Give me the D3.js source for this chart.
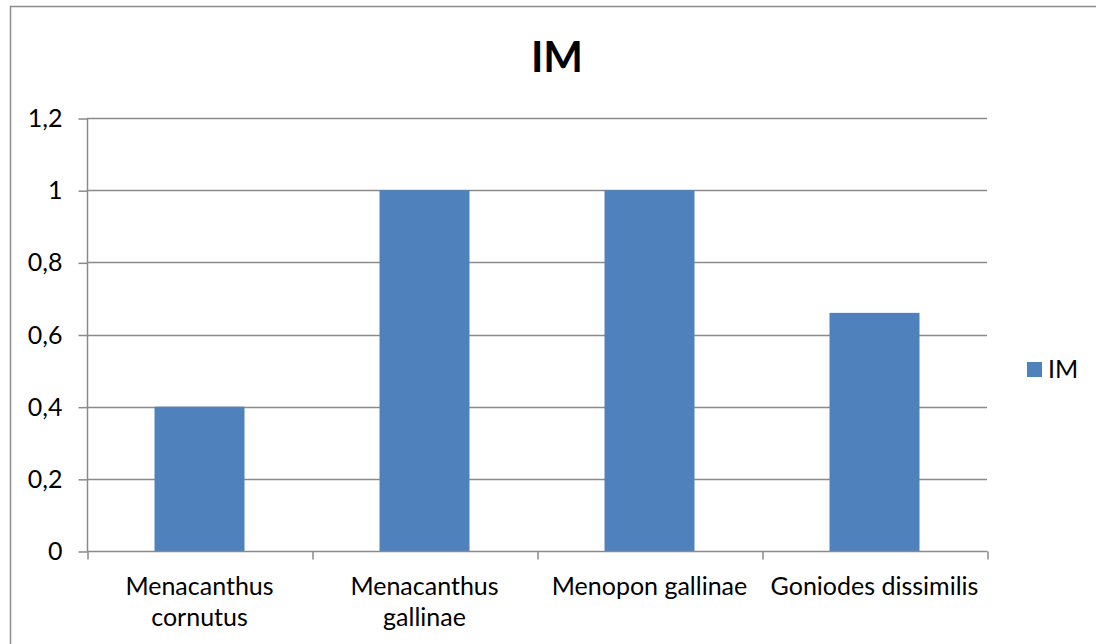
<!DOCTYPE html>
<html><head><meta charset="utf-8">
<script src="https://cdn.jsdelivr.net/npm/d3@7"></script>
<style>body{margin:0;background:#fff;overflow:hidden}svg{display:block}</style>
</head><body>
<svg id="c" width="1096" height="644"></svg>
<script>
const categories = [["Menacanthus","cornutus"],["Menacanthus","gallinae"],["Menopon gallinae"],["Goniodes dissimilis"]];
const values = [0.4, 1, 1, 0.66];
const yTicks = [0, 0.2, 0.4, 0.6, 0.8, 1, 1.2];
const yTickLabels = ["0","0,2","0,4","0,6","0,8","1","1,2"];
const seriesName = "IM";
const chartTitle = "IM";

const svg = d3.select("#c");
const font = "Lato, 'Open Sans', sans-serif";
const grid = "#8a8a8a";
const barColor = "#4f81bd";
const L = 87, R = 987, T = 118, B = 551;

svg.append("rect").attr("x",10.5).attr("y",6.5).attr("width",1200).attr("height",800)
  .attr("fill","#fff").attr("stroke","#8c8c8c").attr("stroke-width",1.5);

const x = d3.scaleBand().domain(d3.range(categories.length)).range([L,R]).padding(0);
const y = d3.scaleLinear().domain([0,1.2]).range([B,T]);

// gridlines
svg.append("g").selectAll("line").data(yTicks.filter(d=>d>0)).join("line")
  .attr("x1",L).attr("x2",R).attr("y1",d=>Math.round(y(d))+0.5).attr("y2",d=>Math.round(y(d))+0.5)
  .attr("stroke",grid).attr("stroke-width",1.5);

// y axis
const yAxis = d3.axisLeft(y).tickValues(yTicks).tickSize(9).tickPadding(16)
  .tickFormat((d,i)=>yTickLabels[i]);
const gy = svg.append("g").attr("transform",`translate(${L+0.5},0.5)`).call(yAxis);
gy.select(".domain").attr("stroke",grid).attr("stroke-width",1.5).attr("d",`M0,${T}V${B}`);
gy.selectAll(".tick line").attr("stroke",grid).attr("stroke-width",1.5);
gy.selectAll(".tick text").attr("font-family",font).attr("font-size",25).attr("fill","#000");

// bars
const bw = x.bandwidth()*0.4;
svg.append("g").selectAll("rect").data(values).join("rect")
  .attr("x",(d,i)=>x(i)+(x.bandwidth()-bw)/2).attr("width",bw)
  .attr("y",d=>y(d)).attr("height",d=>y(0)-y(d)).attr("fill",barColor);

// x axis
const xb = d3.scaleLinear().domain([0,categories.length]).range([L,R]);
const xAxis = d3.axisBottom(xb).ticks(categories.length).tickSize(8).tickFormat("");
const gx = svg.append("g").attr("transform",`translate(0.5,${B+0.5})`).call(xAxis);
gx.select(".domain").attr("stroke",grid).attr("stroke-width",1.5).attr("d",`M${L},0H${R}`);
gx.selectAll(".tick line").attr("stroke",grid).attr("stroke-width",1.5);

const labels = svg.append("g").selectAll("text").data(categories).join("text")
  .attr("text-anchor","middle").attr("font-family",font).attr("font-size",25).attr("fill","#000")
  .attr("transform",(d,i)=>`translate(${x(i)+x.bandwidth()/2},595)`);
labels.selectAll("tspan").data(d=>d).join("tspan").attr("x",0).attr("dy",(d,j)=>j?31:0).text(d=>d);

// title
svg.append("text").attr("x",557).attr("y",72).attr("text-anchor","middle")
  .attr("font-family",font).attr("font-weight","bold").attr("font-size",42).text(chartTitle);

// legend
svg.append("rect").attr("x",1027).attr("y",362).attr("width",15).attr("height",15).attr("fill",barColor);
svg.append("text").attr("x",1048).attr("y",378).attr("font-family",font).attr("font-size",25).text(seriesName);
</script>
</body></html>
